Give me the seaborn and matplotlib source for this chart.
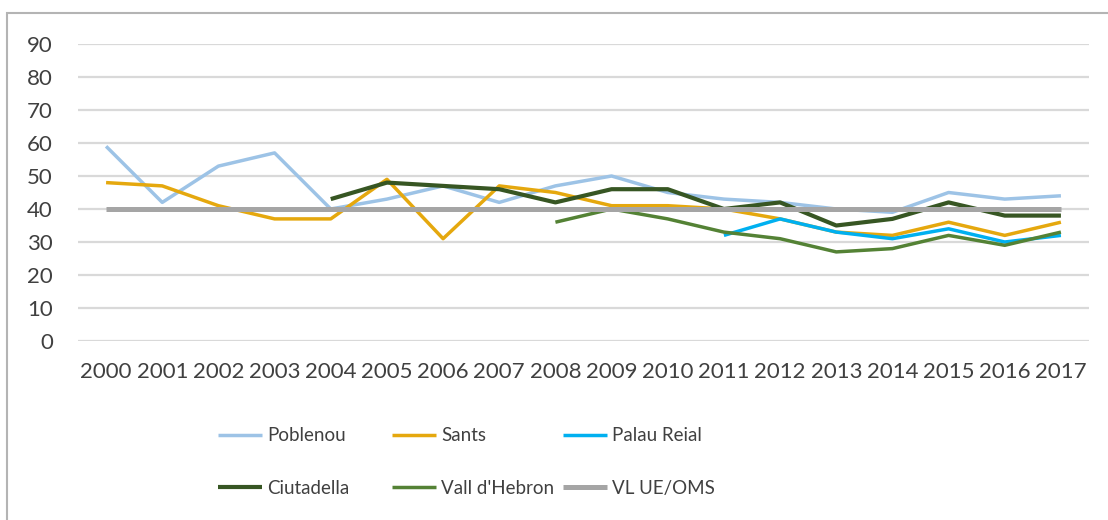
import numpy as np
import pandas as pd
import matplotlib
matplotlib.use("Agg")
import matplotlib.pyplot as plt
from matplotlib.patches import Rectangle
import seaborn as sns

# Dades (µg/m3) per estació
anys = list(range(2000, 2018))
poblenou = [59, 42, 53, 57, 40, 43, 47, 42, 47, 50, 45, 43, 42, 40, 39, 45, 43, 44]
sants = [48, 47, 41, 37, 37, 49, 31, 47, 45, 41, 41, 40, 37, 33, 32, 36, 32, 36]
palau_reial = [np.nan] * 11 + [32, 37, 33, 31, 34, 30, 32]
ciutadella = [np.nan] * 4 + [43, 48, 47, 46, 42, 46, 46, 40, 42, 35, 37, 42, 38, 38]
vall_hebron = [np.nan] * 8 + [36, 40, 37, 33, 31, 27, 28, 32, 29, 33]
valor_limit = [40] * 18

series = [
    ("Poblenou", poblenou, "#9DC3E6", 2.5),
    ("Sants", sants, "#E5A80E", 2.5),
    ("Palau Reial", palau_reial, "#00B0F0", 2.5),
    ("Ciutadella", ciutadella, "#375623", 3.0),
    ("Vall d'Hebron", vall_hebron, "#548235", 2.5),
    ("VL UE/OMS", valor_limit, "#A5A5A5", 3.6),
]

sns.set_style("white")
plt.rcParams['font.family'] = ['Lato', 'DejaVu Sans']

fig = plt.figure(figsize=(11.08, 5.2), dpi=100)
ax = fig.add_axes([78 / 1108, 1 - 341 / 520, (1089 - 78) / 1108, (341 - 44) / 520])

for nom, valors, color, gruix in series:
    df = pd.DataFrame({"any": anys, "valor": valors})
    sns.lineplot(data=df, x="any", y="valor", color=color, linewidth=gruix,
                 label=nom, ax=ax, solid_capstyle="butt")

if ax.get_legend() is not None:
    ax.get_legend().remove()

ax.set_xlim(1999.5, 2017.5)
ax.set_ylim(0, 90)
ax.set_yticks(range(0, 100, 10))
ax.set_xticks(anys)
ax.set_xticklabels([str(a) for a in anys])
ax.set_xlabel("")
ax.set_ylabel("")
ax.yaxis.grid(True, color="#D9D9D9", linewidth=1.6)
ax.set_axisbelow(True)
sns.despine(ax=ax, left=True, bottom=True)
ax.tick_params(axis="y", length=0, pad=18, labelsize=16, labelcolor="#404040")
ax.tick_params(axis="x", length=0, pad=15, labelsize=16, labelcolor="#404040")

# Llegenda en tres columnes
handles, labels = ax.get_legend_handles_labels()
col_x = [209, 383, 554]
for i, x in enumerate(col_x):
    fig.legend([handles[i], handles[i + 3]], [labels[i], labels[i + 3]],
               loc="upper left", bbox_to_anchor=(x / 1108, 1 - 418 / 520),
               frameon=False, handlelength=2.35, handletextpad=0.25,
               labelspacing=1.9, borderpad=0, labelcolor="#404040",
               fontsize=13.5)

# Vora del gràfic
fig.patches.append(Rectangle((7 / 1108, -0.05), 1.1, 1 - 13 / 520 + 0.05,
                             transform=fig.transFigure, fill=False,
                             edgecolor="#B4B4B4", linewidth=1.5))

fig.savefig("out.png", dpi=100)
